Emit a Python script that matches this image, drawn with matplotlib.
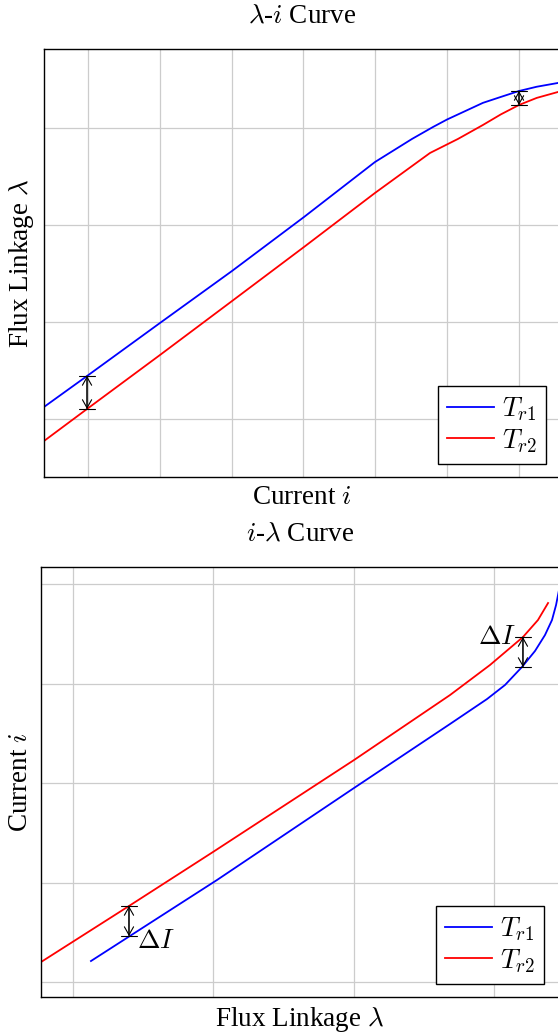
import numpy as np
import matplotlib
matplotlib.use('Agg')
from matplotlib import pyplot as plt

plt.rcParams['font.family'] = 'Liberation Serif'
plt.rcParams['mathtext.fontset'] = 'cm'
plt.rcParams['font.size'] = 19.5

# lambda-i curve (flux linkage against current)
cur_tr1 = [0.387, 0.986, 2.003, 3.006, 4.008, 4.997, 5.513, 5.805, 6.000,
           6.300, 6.501, 6.750, 7.003, 7.250, 7.546, 7.700]
flux_tr1 = [1.124, 1.443, 1.990, 2.526, 3.082, 3.649, 3.887, 4.010, 4.087,
            4.190, 4.259, 4.320, 4.381, 4.425, 4.464, 4.478]
cur_tr2 = [0.387, 0.986, 2.003, 3.006, 4.008, 4.997, 5.763, 6.153, 6.501,
           6.750, 7.003, 7.250, 7.546, 7.700]
flux_tr2 = [0.773, 1.103, 1.660, 2.216, 2.773, 3.330, 3.742, 3.887, 4.031,
            4.140, 4.237, 4.310, 4.371, 4.395]

# i-lambda curve (current against flux linkage)
lam_tr1 = [1.128, 2.026, 3.003, 3.687, 3.951, 4.079, 4.200, 4.293, 4.364,
           4.414, 4.443, 4.471]
i_tr1 = [1.211, 2.025, 2.950, 3.593, 3.844, 3.985, 4.166, 4.327, 4.487,
         4.638, 4.789, 4.990]
lam_tr2 = [0.772, 1.399, 1.998, 3.003, 3.687, 3.972, 4.207, 4.314, 4.386]
i_tr2 = [1.201, 1.764, 2.307, 3.231, 3.884, 4.186, 4.467, 4.638, 4.809]

# delta markers: (x, upper, lower)
top_marks = [(0.986, 1.443, 1.103), (7.003, 4.381, 4.237)]
bot_marks = [(1.399, 1.764, 1.462), (4.207, 4.467, 4.166)]

fig = plt.figure(figsize=(5.58, 10.36), dpi=100)
ax1 = fig.add_axes([0.0789, 0.5396, 0.9247, 0.4131])
ax2 = fig.add_axes([0.0735, 0.0376, 0.9283, 0.4151])


def style(ax, xt, yt, xlim, ylim):
    ax.set_xticks(xt)
    ax.set_yticks(yt)
    ax.set_xlim(xlim)
    ax.set_ylim(ylim)
    ax.tick_params(length=0, labelbottom=False, labelleft=False)
    ax.grid(True, color='#cccccc', linewidth=0.9)
    ax.set_axisbelow(True)
    for s in ax.spines.values():
        s.set_linewidth(1.0)


def delta(ax, x, y_hi, y_lo):
    ax.annotate('', xy=(x, y_lo), xytext=(x, y_hi),
                arrowprops=dict(arrowstyle='<->,head_length=0.3,head_width=0.17',
                                lw=0.8, shrinkA=0, shrinkB=0, color='black'))
    ax.annotate('', xy=(x, y_lo), xytext=(x, y_hi),
                arrowprops=dict(arrowstyle='|-|,widthA=0.3,widthB=0.3',
                                lw=0.8, shrinkA=0, shrinkB=0, color='black'))


def legend(ax, right, bottom):
    ax.legend(loc='lower right', bbox_to_anchor=(right / 558, 1 - bottom / 1036),
              bbox_transform=fig.transFigure, borderaxespad=0, fancybox=False,
              edgecolor='black', framealpha=1, handlelength=1.7, handletextpad=0.3,
              labelspacing=0.15, borderpad=0.35)


style(ax1, range(1, 8), range(1, 5), (0.387, 7.574), (0.402, 4.814))
ax1.plot(cur_tr1, flux_tr1, color='blue', lw=1.3, label=r'$T_{r1}$')
ax1.plot(cur_tr2, flux_tr2, color='red', lw=1.3, label=r'$T_{r2}$')
for m in top_marks:
    delta(ax1, *m)
ax1.set_title(r'$\lambda$-$i$ Curve', pad=19, fontsize=19.5)
ax1.set_xlabel(r'Current $i$', labelpad=6)
ax1.set_ylabel(r'Flux Linkage $\lambda$', labelpad=6)
legend(ax1, 546, 464)

style(ax2, range(1, 5), range(1, 6), (0.772, 4.464), (0.849, 5.171))
ax2.plot(lam_tr1, i_tr1, color='blue', lw=1.3, label=r'$T_{r1}$')
ax2.plot(lam_tr2, i_tr2, color='red', lw=1.3, label=r'$T_{r2}$')
for m in bot_marks:
    delta(ax2, *m)
ax2.text(bot_marks[0][0] + 0.06, bot_marks[0][2] - 0.05, r'$\Delta I$', va='center', ha='left')
ax2.text(bot_marks[1][0] - 0.05, bot_marks[1][1], r'$\Delta I$', va='center', ha='right')
ax2.set_title(r'$i$-$\lambda$ Curve', pad=19, fontsize=19.5)
ax2.set_xlabel(r'Flux Linkage $\lambda$', labelpad=6)
ax2.set_ylabel(r'Current $i$', labelpad=6)
legend(ax2, 544, 984)

plt.savefig('out.png', dpi=100)
